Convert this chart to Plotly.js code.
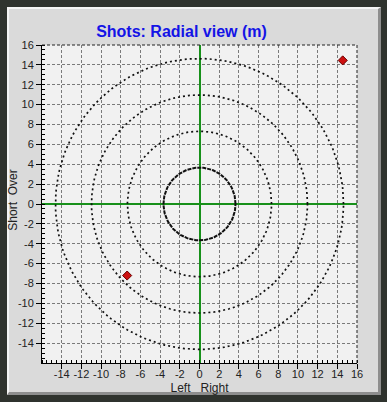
<!DOCTYPE html>
<html>
<head>
<meta charset="utf-8">
<script src="https://cdn.plot.ly/plotly-3.0.1.min.js"></script>
<style>
  html, body { margin: 0; padding: 0; width: 387px; height: 402px; overflow: hidden;
    background: #2f332e; }
  #frame { position: absolute; left: 7px; top: 7px; width: 369px; height: 383px;
    border-left: 2px solid #f4f4f4; border-top: 2px solid #f4f4f4;
    border-right: 3px solid #8e8e8e; border-bottom: 3px solid #8e8e8e;
    background: #dadada; }
  #chart { position: absolute; left: 0; top: 0; width: 387px; height: 402px; }
</style>
</head>
<body>
<div id="frame"></div>
<div id="chart"></div>
<script>
// Data
const ringRadii = [3.66, 7.32, 10.97, 14.63];          // range rings (m)
const ringStyles = ['solid', 'dot', 'dot', 'dot'];
const shotX = [14.55, -7.35];                          // left/right (m)
const shotY = [14.45, -7.2];                           // short/over (m)
const tickVals = [-14, -12, -10, -8, -6, -4, -2, 0, 2, 4, 6, 8, 10, 12, 14, 16];
const tickText = tickVals.map(String);

const traces = [];
ringRadii.forEach((r, i) => {
  const xs = [], ys = [];
  for (let a = 0; a <= 360; a += 2) {
    const t = a * Math.PI / 180;
    xs.push(r * Math.cos(t));
    ys.push(r * Math.sin(t));
  }
  traces.push({
    x: xs, y: ys, type: 'scatter', mode: 'lines', hoverinfo: 'skip',
    line: ringStyles[i] === 'solid'
      ? { color: '#111', width: 2, dash: '4px,1px' }
      : { color: '#111', width: 1.7, dash: '2px,3px' }
  });
});
traces.push({
  x: shotX, y: shotY, type: 'scatter', mode: 'markers',
  marker: { symbol: 'diamond', size: 7, color: '#cc1010', line: { color: '#6a0000', width: 1 } }
});

const axisCommon = {
  range: [-16, 16], tickmode: 'array', tickvals: tickVals, ticktext: tickText,
  showgrid: true, gridcolor: '#7a7a7a', griddash: '3px,2px', gridwidth: 1,
  zeroline: true, zerolinecolor: '#17901a', zerolinewidth: 2,
  showline: true, linecolor: '#000', linewidth: 1,
  ticks: 'outside', ticklen: 5, tickcolor: '#000', tickwidth: 1,
  minor: { tickmode: 'linear', tick0: 0, dtick: 0.5, ticks: 'inside', ticklen: 3, tickcolor: '#000', showgrid: false },
  tickfont: { family: 'Liberation Sans, Arial, sans-serif', size: 11, color: '#222' },
  fixedrange: true
};

const layout = {
  width: 387, height: 402,
  margin: { l: 42, r: 30, t: 45, b: 39, pad: 0 },
  paper_bgcolor: 'rgba(0,0,0,0)',
  plot_bgcolor: '#f1f1f1',
  showlegend: false,
  title: {
    text: 'Shots: Radial view (m)',
    font: { family: 'Liberation Sans, Arial, sans-serif', size: 16, color: '#1414e6', weight: 'bold' },
    xref: 'container', x: 0.469, xanchor: 'center',
    yref: 'container', y: 0.9229, yanchor: 'middle'
  },
  xaxis: Object.assign({}, axisCommon, {
    title: { text: 'Left\u00a0\u00a0 Right', standoff: 0,
      font: { family: 'Liberation Sans, Arial, sans-serif', size: 12, color: '#222' } }
  }),
  yaxis: Object.assign({}, axisCommon, {
    title: { text: 'Short\u00a0\u00a0Over', standoff: 0,
      font: { family: 'Liberation Sans, Arial, sans-serif', size: 12, color: '#222' } }
  }),
  shapes: [
    { type: 'line', xref: 'paper', yref: 'paper', x0: 0, x1: 1, y0: 1, y1: 1,
      line: { color: '#222', width: 1, dash: '3px,2px' } },
    { type: 'line', xref: 'paper', yref: 'paper', x0: 1, x1: 1, y0: 0, y1: 1,
      line: { color: '#222', width: 1, dash: '3px,2px' } }
  ]
};

Plotly.newPlot('chart', traces, layout, { displayModeBar: false, staticPlot: true }).then(() => {
  // x tick labels: centre them just below the axis (page y ~374)
  document.querySelectorAll('#chart .xtick text').forEach(t => {
    const b = t.getBoundingClientRect();
    const dy = 374 - (b.top + b.height / 2);
    t.setAttribute('y', String(parseFloat(t.getAttribute('y')) + dy));
  });
  // x axis title centred near page y ~388
  const xt = document.querySelector('#chart .g-xtitle text');
  if (xt) {
    const b = xt.getBoundingClientRect();
    const dy = 388 - (b.top + b.height / 2);
    xt.setAttribute('y', String(parseFloat(xt.getAttribute('y')) + dy));
  }
  // y axis title centred near page x ~13, y ~200
  const yg = document.querySelector('#chart .g-ytitle');
  if (yg) {
    const b = yg.getBoundingClientRect();
    const dx = 13 - (b.left + b.width / 2);
    const dy = 200 - (b.top + b.height / 2);
    yg.setAttribute('transform', 'translate(' + dx + ',' + dy + ')');
  }
});
</script>
</body>
</html>
